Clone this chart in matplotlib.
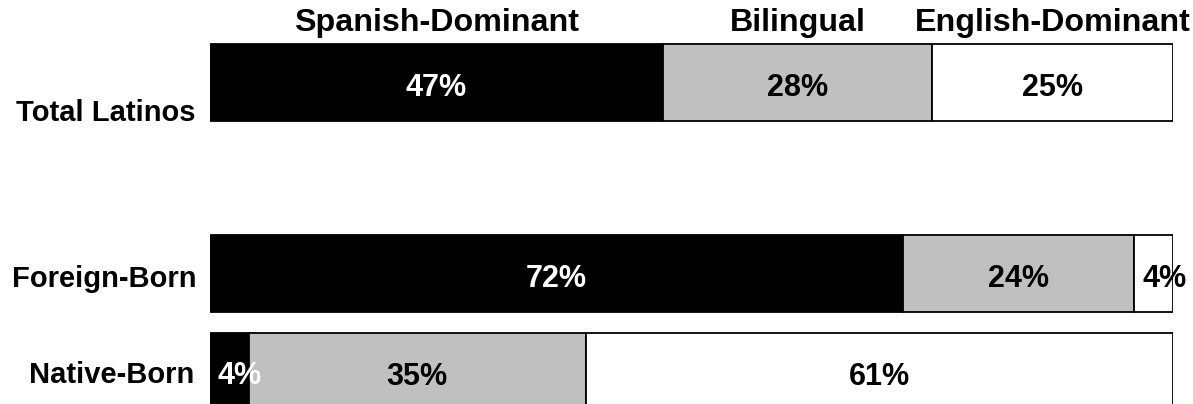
import matplotlib
matplotlib.use("Agg")
import matplotlib.pyplot as plt

categories = ["Total Latinos", "Foreign-Born", "Native-Born"]
series_names = ["Spanish-Dominant", "Bilingual", "English-Dominant"]
spanish = [47, 72, 4]
bilingual = [28, 24, 35]
english = [25, 4, 61]

plt.rcParams['font.family'] = ['Liberation Sans', 'DejaVu Sans']

W, H = 1193, 404
PX = 72 / 100  # points per pixel
fig = plt.figure(figsize=(W / 100, H / 100), dpi=100)
ax = fig.add_axes([210 / W, 0, (1173 - 210) / W, 1])

ypos = [0, 1.95, 2.95]
bar_h = 0.786
colors = ["#000000", "#C0C0C0", "#FFFFFF"]
text_colors = ["white", "black", "black"]
series = [spanish, bilingual, english]

left = [0] * len(categories)
for s_idx, vals in enumerate(series):
    ax.barh(ypos, vals, left=left, height=bar_h, color=colors[s_idx],
            edgecolor="black", linewidth=1.3, zorder=2)
    for i, v in enumerate(vals):
        if v < 5:
            ax.annotate(f"{v}%", xy=(left[i], ypos[i]), xytext=(8 * PX, -13 * PX),
                        textcoords="offset points", ha="left", va="baseline",
                        fontsize=22, fontweight="bold", color=text_colors[s_idx],
                        zorder=5, annotation_clip=False)
        else:
            ax.annotate(f"{v}%", xy=(left[i] + v / 2, ypos[i]), xytext=(0, -13.5 * PX),
                        textcoords="offset points", ha="center", va="baseline",
                        fontsize=22, fontweight="bold", color=text_colors[s_idx],
                        zorder=5)
    left = [l + v for l, v in zip(left, vals)]

# series headers above the Total Latinos bar
left0 = 0
for s_idx, vals in enumerate(series):
    ax.annotate(series_names[s_idx], xy=(left0 + vals[0] / 2, ypos[0]),
                xytext=(0, 51.5 * PX), textcoords="offset points",
                ha="center", va="baseline", fontsize=23.2, fontweight="bold",
                color="black", annotation_clip=False)
    left0 += vals[0]

# category labels
label_baseline_px = [38.5, 13.5, 11.5]
label_right_px = [14, 13, 16]
for i, cat in enumerate(categories):
    ax.annotate(cat, xy=(0, ypos[i]), xycoords=("axes fraction", "data"),
                xytext=(-label_right_px[i] * PX, -label_baseline_px[i] * PX),
                textcoords="offset points", ha="right", va="baseline",
                fontsize=21, fontweight="bold", color="black", annotation_clip=False)

ax.set_xlim(0, 100)
ax.set_ylim(3.282, -0.842)
ax.set_xticks([])
ax.set_yticks([])
for sp in ax.spines.values():
    sp.set_visible(False)
ax.patch.set_alpha(0)

fig.savefig("out.png", dpi=100)
